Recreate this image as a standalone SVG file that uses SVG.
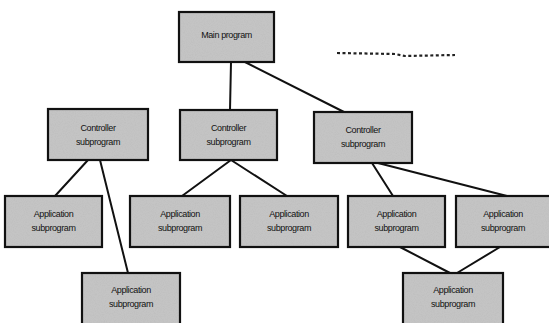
<svg xmlns="http://www.w3.org/2000/svg" width="549" height="323" viewBox="0 0 549 323">
  <style>
    .fill { fill: #c4c4c4; stroke: none; }
    .frame { fill: none; stroke: #111; stroke-width: 2.2; }
    .lbl { font-family: "Liberation Sans", Arial, sans-serif; font-size: 9px; fill: #111; text-anchor: middle; letter-spacing: -0.4px; }
    .edge { stroke: #111; stroke-width: 2; fill: none; stroke-linecap: round; }
    .more { stroke: #222; stroke-width: 2.2; fill: none; stroke-dasharray: 3 2.5; }
  </style>
  <defs>
    <filter id="grain" x="0" y="0" width="100%" height="100%">
      <feTurbulence type="fractalNoise" baseFrequency="0.9" numOctaves="2" seed="3" result="n"/>
      <feColorMatrix in="n" type="matrix" values="0 0 0 0 0.5  0 0 0 0 0.5  0 0 0 0 0.5  0 0 0 1.2 -0.45" result="g"/>
      <feComposite in="g" in2="SourceGraphic" operator="atop"/>
    </filter>
  </defs>
  <rect width="549" height="323" fill="#ffffff"/>

  <!-- connectors -->
  <g id="connectors">
    <line class="edge" x1="231" y1="62" x2="230" y2="110"/>
    <line class="edge" x1="245" y1="62" x2="344" y2="112"/>
    <line class="edge" x1="88" y1="160" x2="55" y2="196"/>
    <line class="edge" x1="100" y1="160" x2="128" y2="273"/>
    <line class="edge" x1="231" y1="160" x2="182" y2="196"/>
    <line class="edge" x1="231" y1="160" x2="287" y2="196"/>
    <line class="edge" x1="372" y1="163" x2="393" y2="196"/>
    <line class="edge" x1="378" y1="163" x2="507" y2="196"/>
    <line class="edge" x1="400" y1="247" x2="450" y2="273"/>
    <line class="edge" x1="500" y1="247" x2="457" y2="273"/>
    <path class="more" d="M337 53 L395 54 L405 56 L455 55"/>
  </g>

  <g id="main">
    <rect class="fill" x="179" y="12" width="95" height="50" filter="url(#grain)"/>
    <rect class="frame" x="179" y="12" width="95" height="50"/>
    <text class="lbl" x="226.5" y="38">Main program</text>
  </g>

  <g id="ctrl-left">
    <rect class="fill" x="48" y="109" width="100" height="51" filter="url(#grain)"/>
    <rect class="frame" x="48" y="109" width="100" height="51"/>
    <text class="lbl" x="98" y="131">Controller</text>
    <text class="lbl" x="98" y="145">subprogram</text>
  </g>
  <g id="ctrl-mid">
    <rect class="fill" x="180" y="110" width="97" height="50" filter="url(#grain)"/>
    <rect class="frame" x="180" y="110" width="97" height="50"/>
    <text class="lbl" x="228.5" y="131">Controller</text>
    <text class="lbl" x="228.5" y="145">subprogram</text>
  </g>
  <g id="ctrl-right">
    <rect class="fill" x="314" y="112" width="98" height="51" filter="url(#grain)"/>
    <rect class="frame" x="314" y="112" width="98" height="51"/>
    <text class="lbl" x="363" y="133">Controller</text>
    <text class="lbl" x="363" y="147">subprogram</text>
  </g>

  <g id="app-1">
    <rect class="fill" x="5" y="196" width="97" height="51" filter="url(#grain)"/>
    <rect class="frame" x="5" y="196" width="97" height="51"/>
    <text class="lbl" x="53.5" y="217">Application</text>
    <text class="lbl" x="53.5" y="231">subprogram</text>
  </g>
  <g id="app-2">
    <rect class="fill" x="130" y="196" width="100" height="51" filter="url(#grain)"/>
    <rect class="frame" x="130" y="196" width="100" height="51"/>
    <text class="lbl" x="180" y="217">Application</text>
    <text class="lbl" x="180" y="231">subprogram</text>
  </g>
  <g id="app-3">
    <rect class="fill" x="240" y="196" width="98" height="51" filter="url(#grain)"/>
    <rect class="frame" x="240" y="196" width="98" height="51"/>
    <text class="lbl" x="289" y="217">Application</text>
    <text class="lbl" x="289" y="231">subprogram</text>
  </g>
  <g id="app-4">
    <rect class="fill" x="348" y="196" width="97" height="51" filter="url(#grain)"/>
    <rect class="frame" x="348" y="196" width="97" height="51"/>
    <text class="lbl" x="396.5" y="217">Application</text>
    <text class="lbl" x="396.5" y="231">subprogram</text>
  </g>
  <g id="app-5">
    <rect class="fill" x="456" y="196" width="98" height="51" filter="url(#grain)"/>
    <rect class="frame" x="456" y="196" width="98" height="51"/>
    <text class="lbl" x="503" y="217">Application</text>
    <text class="lbl" x="503" y="231">subprogram</text>
  </g>

  <g id="app-6">
    <rect class="fill" x="82" y="273" width="98" height="55" filter="url(#grain)"/>
    <rect class="frame" x="82" y="273" width="98" height="55"/>
    <text class="lbl" x="131" y="293">Application</text>
    <text class="lbl" x="131" y="307">subprogram</text>
  </g>
  <g id="app-7">
    <rect class="fill" x="403" y="273" width="100" height="55" filter="url(#grain)"/>
    <rect class="frame" x="403" y="273" width="100" height="55"/>
    <text class="lbl" x="453" y="293">Application</text>
    <text class="lbl" x="453" y="307">subprogram</text>
  </g>
</svg>
